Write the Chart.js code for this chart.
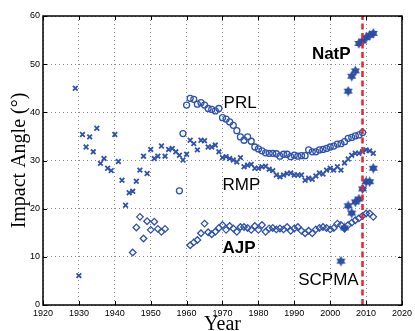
<!DOCTYPE html>
<html>
<head>
<meta charset="utf-8">
<script src="https://cdn.jsdelivr.net/npm/chart.js@4.4.0/dist/chart.umd.min.js"></script>
<style>
    html, body { margin: 0; padding: 0; background: #fff; }
    #myChart { display: block; }
</style>
</head>
<body>
<canvas id="myChart" width="415" height="331"></canvas>
<script>
// Données
const xTicks = [1920, 1930, 1940, 1950, 1960, 1970, 1980, 1990, 2000, 2010, 2020];
const yTicks = [0, 10, 20, 30, 40, 50, 60];

const rmpYears = [1929, 1930, 1931, 1932, 1933, 1934, 1935, 1936, 1937, 1938, 1939, 1940, 1941, 1942, 1943, 1944, 1945, 1946, 1947, 1948, 1949,
    1950, 1951, 1952, 1953, 1954, 1955, 1956, 1957, 1958, 1959, 1960, 1961, 1962, 1963, 1964, 1965, 1966, 1967, 1968, 1969,
    1970, 1971, 1972, 1973, 1974, 1975, 1976, 1977, 1978, 1979, 1980, 1981, 1982, 1983, 1984, 1985, 1986, 1987, 1988, 1989,
    1990, 1991, 1992, 1993, 1994, 1995, 1996, 1997, 1998, 1999, 2000, 2001, 2002, 2003, 2004, 2005, 2006, 2007, 2008, 2009,
    2010, 2011, 2012];
const rmpAngles = [45.0, 6.1, 35.4, 32.8, 34.9, 31.8, 36.7, 29.4, 30.4, 28.4, 27.9, 35.4, 29.8, 25.9, 20.7, 23.3, 23.6, 25.7, 28.0, 30.9, 27.3,
    32.3, 30.4, 30.9, 33.0, 30.9, 32.3, 32.5, 31.8, 31.1, 30.1, 31.3, 34.2, 33.5, 32.2, 34.2, 34.1, 32.8, 32.8, 33.2, 31.8,
    30.6, 30.8, 30.4, 30.1, 29.7, 30.6, 28.7, 29.0, 29.2, 28.4, 28.4, 28.7, 28.8, 28.2, 27.9, 27.0, 26.6, 27.0, 27.3, 27.4,
    27.0, 27.0, 27.0, 25.9, 26.3, 26.1, 26.8, 27.4, 27.2, 28.0, 28.4, 28.0, 28.7, 28.0, 29.5, 30.3, 31.1, 31.5, 31.5, 31.8,
    32.2, 32.0, 31.5];

const prlYears = [1958, 1959, 1960, 1961, 1962, 1963, 1964, 1965, 1966, 1967, 1968, 1969, 1970, 1971, 1972, 1973, 1974, 1975, 1976, 1977, 1978, 1979,
    1980, 1981, 1982, 1983, 1984, 1985, 1986, 1987, 1988, 1989, 1990, 1991, 1992, 1993, 1994, 1995, 1996, 1997, 1998, 1999,
    2000, 2001, 2002, 2003, 2004, 2005, 2006, 2007, 2008, 2009];
const prlAngles = [23.7, 35.6, 41.5, 42.9, 42.7, 41.7, 42.0, 41.5, 40.8, 40.6, 40.3, 40.8, 38.9, 38.6, 38.0, 37.3, 36.2, 34.9, 34.2, 34.9, 34.0, 32.8,
    32.4, 32.0, 31.6, 31.5, 31.5, 31.4, 30.9, 31.3, 31.3, 30.8, 31.1, 30.9, 31.0, 31.0, 32.2, 31.8, 31.8, 32.2, 32.3, 32.5,
    32.8, 33.0, 33.4, 33.5, 33.9, 34.6, 34.8, 35.1, 35.3, 35.8];

const ajpYears = [1945, 1946, 1947, 1948, 1949, 1950, 1951, 1952, 1953, 1954,
    1961, 1962, 1963, 1964, 1965, 1966, 1967, 1968, 1969, 1970, 1971, 1972, 1973, 1974, 1975, 1976, 1977, 1978, 1979,
    1980, 1981, 1982, 1983, 1984, 1985, 1986, 1987, 1988, 1989, 1990, 1991, 1992, 1993, 1994, 1995, 1996, 1997, 1998, 1999,
    2000, 2001, 2002, 2003, 2004, 2005, 2006, 2007, 2008, 2009, 2010, 2011, 2012];
const ajpAngles = [10.9, 16.1, 18.3, 13.8, 17.4, 15.6, 17.3, 15.8, 15.2, 15.8,
    12.4, 13.0, 13.5, 14.9, 16.9, 15.1, 14.7, 15.2, 16.0, 16.6, 15.6, 16.4, 15.9, 15.2, 16.2, 16.2, 16.0, 15.6, 16.4,
    15.6, 16.6, 15.2, 15.9, 16.0, 15.7, 15.9, 15.7, 16.2, 15.4, 15.9, 16.2, 15.4, 14.9, 15.4, 14.9, 15.7, 16.0, 16.2, 16.0,
    15.7, 16.0, 16.9, 16.6, 15.9, 16.6, 17.1, 17.6, 18.0, 18.5, 19.0, 19.0, 18.3];

const scpmaYears = [2003, 2004, 2005, 2006, 2007, 2008, 2009, 2010, 2011, 2012];
const scpmaAngles = [9.1, 16.0, 20.6, 19.1, 21.4, 22.0, 24.1, 25.6, 25.6, 28.4];

const natpYears = [2005, 2006, 2007, 2008, 2009, 2010, 2011, 2012];
const natpAngles = [44.4, 47.5, 48.6, 54.3, 54.8, 55.5, 56.0, 56.4];

const markerYear = 2009;

const blue = '#2f53ad';

function toPoints(xs, ys) {
    return xs.map((x, i) => ({ x: x, y: ys[i] }));
}

// étoile pleine à six branches pour SCPMA / NatP
function makeStar() {
    const c = document.createElement('canvas');
    c.width = 11;
    c.height = 11;
    const g = c.getContext('2d');
    g.fillStyle = '#2b4ea6';
    const r = 5.2;
    for (let t = 0; t < 2; t++) {
        g.beginPath();
        for (let k = 0; k < 3; k++) {
            const a = -Math.PI / 2 + t * Math.PI + k * 2 * Math.PI / 3;
            const px = 5.5 + r * Math.cos(a);
            const py = 5.5 + r * Math.sin(a);
            if (k === 0) g.moveTo(px, py); else g.lineTo(px, py);
        }
        g.closePath();
        g.fill();
    }
    return c;
}
const star = makeStar();

// textes, cadre et graduations intérieures
const decorations = {
    id: 'decorations',
    afterDraw(chart) {
        const ctx = chart.ctx;
        const a = chart.chartArea;
        const xs = chart.scales.x;
        const ys = chart.scales.y;
        ctx.save();

        ctx.strokeStyle = '#000';
        ctx.lineWidth = 1;
        ctx.beginPath();
        xTicks.forEach(v => {
            const px = Math.round(xs.getPixelForValue(v)) + 0.5;
            ctx.moveTo(px, a.bottom); ctx.lineTo(px, a.bottom - 4);
            ctx.moveTo(px, a.top); ctx.lineTo(px, a.top + 4);
        });
        yTicks.forEach(v => {
            const py = Math.round(ys.getPixelForValue(v)) + 0.5;
            ctx.moveTo(a.left, py); ctx.lineTo(a.left + 4, py);
            ctx.moveTo(a.right, py); ctx.lineTo(a.right - 4, py);
        });
        ctx.stroke();
        ctx.lineWidth = 1.5;
        ctx.strokeRect(a.left, a.top, a.right - a.left, a.bottom - a.top);

        const labels = [
            { text: 'PRL', x: 1970.3, y: 41.9, bold: false },
            { text: 'RMP', x: 1970, y: 24.9, bold: false },
            { text: 'AJP', x: 1970, y: 11.8, bold: true },
            { text: 'SCPMA', x: 1991.1, y: 5.1, bold: false },
            { text: 'NatP', x: 1994.9, y: 52.1, bold: true }
        ];
        ctx.fillStyle = '#000';
        ctx.textAlign = 'left';
        ctx.textBaseline = 'middle';
        labels.forEach(l => {
            ctx.font = (l.bold ? 'bold ' : '') + '17px "Liberation Sans", Arial, sans-serif';
            ctx.fillText(l.text, xs.getPixelForValue(l.x), ys.getPixelForValue(l.y));
        });

        ctx.font = '20px "Liberation Serif", "Times New Roman", serif';
        ctx.textAlign = 'center';
        ctx.textBaseline = 'alphabetic';
        ctx.fillText('Year', (a.left + a.right) / 2, 330);

        ctx.translate(25, (a.top + a.bottom) / 2);
        ctx.rotate(-Math.PI / 2);
        ctx.fillText('Impact Angle (°)', 0, 0);
        ctx.restore();
    }
};

const ctx = document.getElementById('myChart').getContext('2d');
const chart = new Chart(ctx, {
    type: 'scatter',
    data: {
        datasets: [{
                label: 'marker',
                data: [{ x: markerYear, y: 0 }, { x: markerYear, y: 60 }],
                showLine: true,
                borderColor: '#e8262d',
                borderWidth: 2.5,
                borderDash: [6, 3.5],
                pointRadius: 0
            },
            {
                label: 'NatP',
                data: toPoints(natpYears, natpAngles),
                pointStyle: star,
                pointRadius: 5
            },
            {
                label: 'SCPMA',
                data: toPoints(scpmaYears, scpmaAngles),
                pointStyle: star,
                pointRadius: 5
            },
            {
                label: 'PRL',
                data: toPoints(prlYears, prlAngles),
                pointStyle: 'circle',
                pointRadius: 3,
                borderColor: blue,
                backgroundColor: 'rgba(0,0,0,0)',
                borderWidth: 1.3
            },
            {
                label: 'RMP',
                data: toPoints(rmpYears, rmpAngles),
                pointStyle: 'crossRot',
                pointRadius: 3.3,
                borderColor: blue,
                borderWidth: 1.8
            },
            {
                label: 'AJP',
                data: toPoints(ajpYears, ajpAngles),
                pointStyle: 'rectRot',
                pointRadius: 3.3,
                borderColor: blue,
                backgroundColor: 'rgba(0,0,0,0)',
                borderWidth: 1.3
            }
        ]
    },
    options: {
        responsive: false,
        animation: false,
        layout: { padding: { top: 16, right: 8, left: 0, bottom: 0 } },
        plugins: {
            legend: { display: false },
            tooltip: { enabled: false }
        },
        scales: {
            x: {
                type: 'linear',
                min: 1920,
                max: 2020,
                afterBuildTicks: scale => { scale.ticks = xTicks.map(v => ({ value: v })); },
                afterFit: scale => { scale.height = 26; },
                ticks: {
                    padding: 3,
                    maxRotation: 0,
                    color: '#000',
                    callback: v => String(v),
                    font: { family: '"Liberation Sans", Arial, sans-serif', size: 9 }
                },
                grid: { color: 'rgba(0,0,0,0.45)', lineWidth: 1, drawTicks: false },
                border: { display: false, dash: [1, 3] }
            },
            y: {
                min: 0,
                max: 60,
                afterBuildTicks: scale => { scale.ticks = yTicks.map(v => ({ value: v })); },
                afterFit: scale => { scale.width = 43; },
                ticks: {
                    padding: 3,
                    color: '#000',
                    callback: v => String(v),
                    font: { family: '"Liberation Sans", Arial, sans-serif', size: 9 }
                },
                grid: { color: 'rgba(0,0,0,0.45)', lineWidth: 1, drawTicks: false },
                border: { display: false, dash: [1, 3] }
            }
        }
    },
    plugins: [decorations]
});
</script>
</body>
</html>
